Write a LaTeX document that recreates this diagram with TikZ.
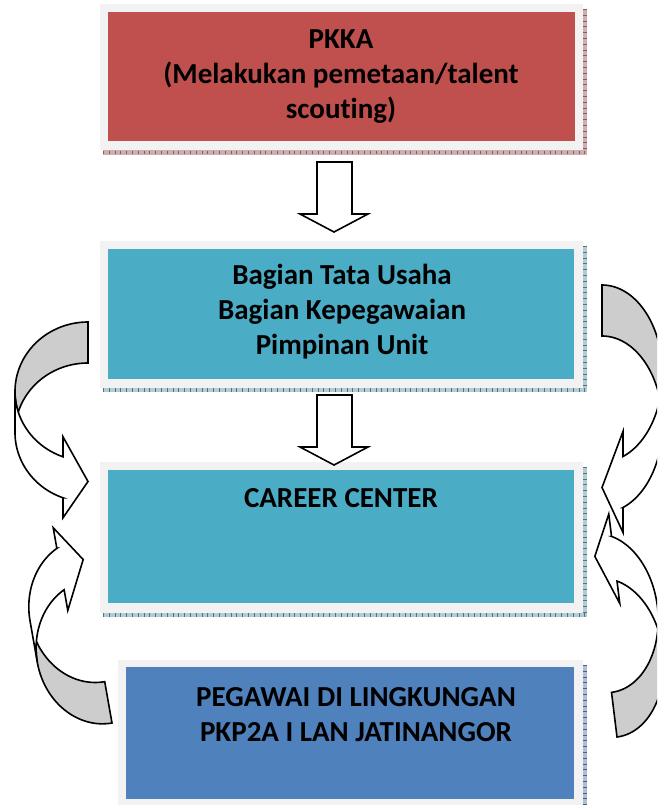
\documentclass[tikz,border=0pt]{standalone}
\usepackage{fontspec}
\setmainfont{Carlito}[Ligatures={NoCommon,NoContextual}]
\definecolor{framegray}{RGB}{242,242,242}
\definecolor{boxred}{RGB}{192,80,77}
\definecolor{boxteal}{RGB}{75,172,198}
\definecolor{boxblue}{RGB}{79,129,189}
\definecolor{backgray}{RGB}{205,205,205}
\definecolor{shred}{RGB}{205,175,175}
\definecolor{shredd}{RGB}{140,90,90}
\definecolor{shteal}{RGB}{175,205,210}
\definecolor{shteald}{RGB}{80,115,125}
\definecolor{shblue}{RGB}{175,190,215}
\definecolor{shblued}{RGB}{75,95,130}
\newcommand{\CurvArr}[5]{%
  \pgfmathsetmacro{\CAw}{#1}%
  \pgfmathsetmacro{\CAh}{#2}%
  \pgfmathsetmacro{\CAth}{#3}%
  \pgfmathsetmacro{\CAaw}{#4}%
  \pgfmathsetmacro{\CAah}{#5}%
  \pgfmathsetmacro{\CAhR}{\CAh/2-(\CAth+\CAaw)/4}%
  \pgfmathsetmacro{\CAbeta}{acos(\CAah/\CAw)}%
  \pgfmathsetmacro{\CAdy}{\CAhR*sin(\CAbeta)}%
  \pgfmathsetmacro{\CAyv}{\CAhR+\CAdy}%
  \pgfmathsetmacro{\CAysv}{\CAhR+\CAth+\CAdy}%
  \pgfmathsetmacro{\CAdh}{(\CAaw-\CAth)/2}%
  \pgfmathsetmacro{\CAyiv}{\CAyv-\CAdh}%
  \pgfmathsetmacro{\CAyviii}{\CAysv+\CAdh}%
  \pgfmathsetmacro{\CAyvi}{\CAh-\CAaw/2}%
  \pgfmathsetmacro{\CAq}{\CAth/(2*\CAhR)}%
  \pgfmathsetmacro{\CAidx}{\CAw*sqrt(1-\CAq*\CAq)}%
  \pgfmathsetmacro{\CAgam}{acos(\CAidx/\CAw)}%
  \pgfmathsetmacro{\CAendA}{180+\CAgam}%
  \pgfmathsetmacro{\CAstB}{180-\CAgam}%
  \pgfmathsetmacro{\CAendH}{180+\CAbeta}%
  \filldraw[arrline, fill=backgray] (0,0)
    -- plot[domain=90:\CAendA, samples=50] ({\CAw*cos(\x)},{\CAhR-\CAhR*sin(\x)})
    -- plot[domain=\CAstB:90, samples=50] ({\CAw*cos(\x)},{\CAhR+\CAth-\CAhR*sin(\x)})
    -- cycle;
  \filldraw[arrline, fill=white]
    plot[domain=180:\CAendH, samples=50] ({\CAw*cos(\x)},{\CAhR-\CAhR*sin(\x)})
    -- (-\CAah,\CAyiv) -- (0,\CAyvi) -- (-\CAah,\CAyviii) -- (-\CAah,\CAysv)
    -- plot[domain=\CAendH:180, samples=50] ({\CAw*cos(\x)},{\CAhR+\CAth-\CAhR*sin(\x)})
    -- cycle;
}
\begin{document}
\begin{tikzpicture}[x=1pt,y=-1pt,
  arrline/.style={draw=black, line width=1.6pt, line join=miter},
  frame/.style={fill=framegray, draw=none, inner sep=0pt, outer sep=0pt, anchor=north west},
  inner/.style={draw=none, inner sep=0pt, outer sep=0pt, anchor=north west},
  label/.style={font=\fontsize{29}{35}\selectfont\bfseries, align=center, text=black, inner sep=0pt},
  shadowtick/.style={draw=#1, line width=3.2pt, dash pattern=on 0.8pt off 5pt}]
\useasboundingbox (0,0) rectangle (657,805);
\clip (0,0) rectangle (657,805);
\fill[white] (0,0) rectangle (657,805);

% ---- shadows
\fill[shred] (583,9) rectangle (587,155);
\fill[shred] (103,150) rectangle (587,155);
\draw[shadowtick=shredd] (103,152.5) -- (587,152.5);
\draw[shadowtick=shredd] (585,9) -- (585,150);

\fill[shteal] (583,246) rectangle (587,392);
\fill[shteal] (103,388) rectangle (587,392);
\draw[shadowtick=shteald] (103,390) -- (587,390);
\draw[shadowtick=shteald] (585,246) -- (585,388);

\fill[shteal] (583,467) rectangle (587,617);
\fill[shteal] (103,613) rectangle (587,617);
\draw[shadowtick=shteald] (103,615) -- (587,615);
\draw[shadowtick=shteald] (585,467) -- (585,613);

\fill[shblue] (583,665) rectangle (587,810);
\draw[shadowtick=shblued] (585,665) -- (585,810);

% ---- boxes
\node[frame, minimum width=483pt, minimum height=146pt] (f1) at (100,4) {};
\node[inner, fill=boxred, minimum width=467pt, minimum height=129pt] (b1) at (108,12) {};
\node[frame, minimum width=483pt, minimum height=147pt] (f2) at (100,241) {};
\node[inner, fill=boxteal, minimum width=466pt, minimum height=130pt] (b2) at (108,249) {};
\node[frame, minimum width=483pt, minimum height=151pt] (f3) at (100,462) {};
\node[inner, fill=boxteal, minimum width=466pt, minimum height=133pt] (b3) at (108,470) {};
\node[frame, minimum width=465pt, minimum height=150pt] (f4) at (118,660) {};
\node[inner, fill=boxblue, minimum width=448pt, minimum height=132pt] (b4) at (126,667) {};

% ---- texts
\node[label] (t1) at (341,77) {PKKA\\(Melakukan pemetaan/talent\\scouting)};
\node[label] (t2) at (342,312) {Bagian Tata Usaha\\Bagian Kepegawaian\\Pimpinan Unit};
\node[label] (t3) at (341,498) {CAREER CENTER};
\node[label] (t4) at (356,715) {PEGAWAI DI LINGKUNGAN\\PKP2A I LAN JATINANGOR};

% ---- block arrows
\filldraw[arrline, fill=white] (317,162) -- (352,162) -- (352,214) -- (368,214) -- (334,232) -- (300,214) -- (317,214) -- cycle;
\filldraw[arrline, fill=white] (317,395) -- (352,395) -- (352,447) -- (368,447) -- (334,465) -- (300,447) -- (317,447) -- cycle;

% ---- curved arrows
\begin{scope}[shift={(88,322)}]
  \CurvArr{73}{200}{41}{81}{25}
\end{scope}
\begin{scope}[shift={(112,723)}, rotate=10, yscale=-1]
  \CurvArr{63}{208}{42}{84}{24}
\end{scope}
\begin{scope}[shift={(602,285)}, xscale=-1]
  \CurvArr{60.5}{253}{51}{101}{21}
\end{scope}
\begin{scope}[shift={(617,737)}, rotate=7, xscale=-1, yscale=-1]
  \CurvArr{56}{227}{45}{90}{19}
\end{scope}
\end{tikzpicture}
\end{document}
